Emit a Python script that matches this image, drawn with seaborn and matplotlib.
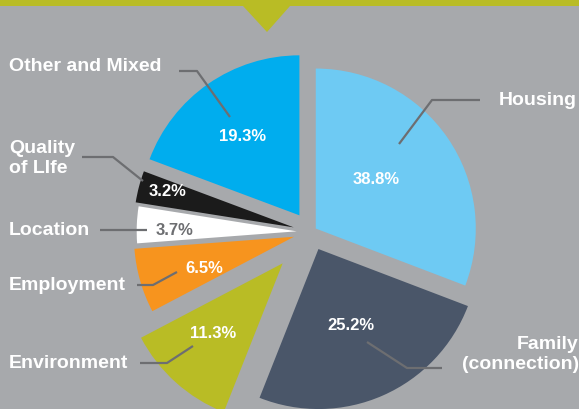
import matplotlib
matplotlib.use("Agg")
import matplotlib.pyplot as plt
import seaborn as sns

## Data (clockwise from 12 o'clock)
categories = ["Housing", "Family\n(connection)", "Environment", "Employment",
              "Location", "Quality\nof LIfe", "Other and Mixed"]
percent = [38.8, 25.2, 11.3, 6.5, 3.7, 3.2, 19.3]

# the original graphic gives Housing whatever arc is left over
arc = [100 - sum(percent[1:])] + percent[1:]

## Styling
BG = "#a7a9ac"
OLIVE = "#b9bc25"
LEADER = "#6d6e71"
slice_colors = ["#6ecaf3", "#4a5669", OLIVE, "#f7941e", "#ffffff", "#1b1b1b", "#00adee"]
pct_colors = ["white", "white", "white", "white", LEADER, "white", "white"]
explode = [0.037, 0.117, 0.264, 0.11, 0.089, 0.111, 0.126]  # fraction of radius

## Layout (pixel coordinates, y down)
CENTER = (310.9, 232.9)
RADIUS = 160
pct_pos = [(376, 178), (351, 324), (213, 332), (204, 267), (175, 229), (168, 190), (243, 135)]
# baseline of the last line of each label
label_pos = [(499, 105, "left"), (579, 369, "right"), (9, 368, "left"), (9, 290, "left"),
             (9, 235, "left"), (9, 173, "left"), (9, 71, "left")]
leaders = [
    [(480, 101), (432, 101), (399, 145)],
    [(442, 369), (407, 369), (367, 343)],
    [(140, 364), (167, 364), (193, 347)],
    [(137, 286), (153, 286), (177, 273)],
    [(100, 231), (147, 231)],
    [(82, 158), (113, 158), (143, 182)],
    [(179, 72), (197, 72), (230, 118)],
]

sns.set_style("white")
plt.rcParams["font.family"] = ["Liberation Sans", "DejaVu Sans"]

fig = plt.figure(figsize=(5.79, 4.10), dpi=100)
fig.patch.set_facecolor(BG)
ax = fig.add_axes([0, 0, 1, 1])
ax.set_facecolor(BG)

# y axis is flipped below, so start at -90 and go counterclockwise to get
# a clockwise pie starting at the top on screen
# (pie's explode is an absolute offset, so scale it by the radius)
ax.pie(arc, colors=slice_colors, explode=[e * RADIUS for e in explode],
       startangle=-90, counterclock=True, center=CENTER, radius=RADIUS,
       wedgeprops=dict(linewidth=0))

ax.set_xlim(0, 579)
ax.set_ylim(410, 0)
ax.set_aspect("equal")
ax.axis("off")

# header band with the little pointer
ax.axhspan(0, 7.3, color=OLIVE, lw=0)
ax.fill([243, 290, 267], [7, 7, 33], color=OLIVE, lw=0)

for pts in leaders:
    xs, ys = zip(*pts)
    ax.plot(xs, ys, color=LEADER, lw=1.6, solid_capstyle="butt", zorder=3)

for p, (x, y), c in zip(percent, pct_pos, pct_colors):
    ax.text(x, y, f"{p:.1f}%", ha="center", va="center_baseline", fontsize=12,
            fontweight="bold", color=c, zorder=4)

for name, (x, y, ha) in zip(categories, label_pos):
    ax.text(x, y, name, ha=ha, va="baseline", fontsize=14, fontweight="bold",
            color="white", multialignment=ha, linespacing=1.2, zorder=4)

fig.savefig("out.png", dpi=100, facecolor=BG)
